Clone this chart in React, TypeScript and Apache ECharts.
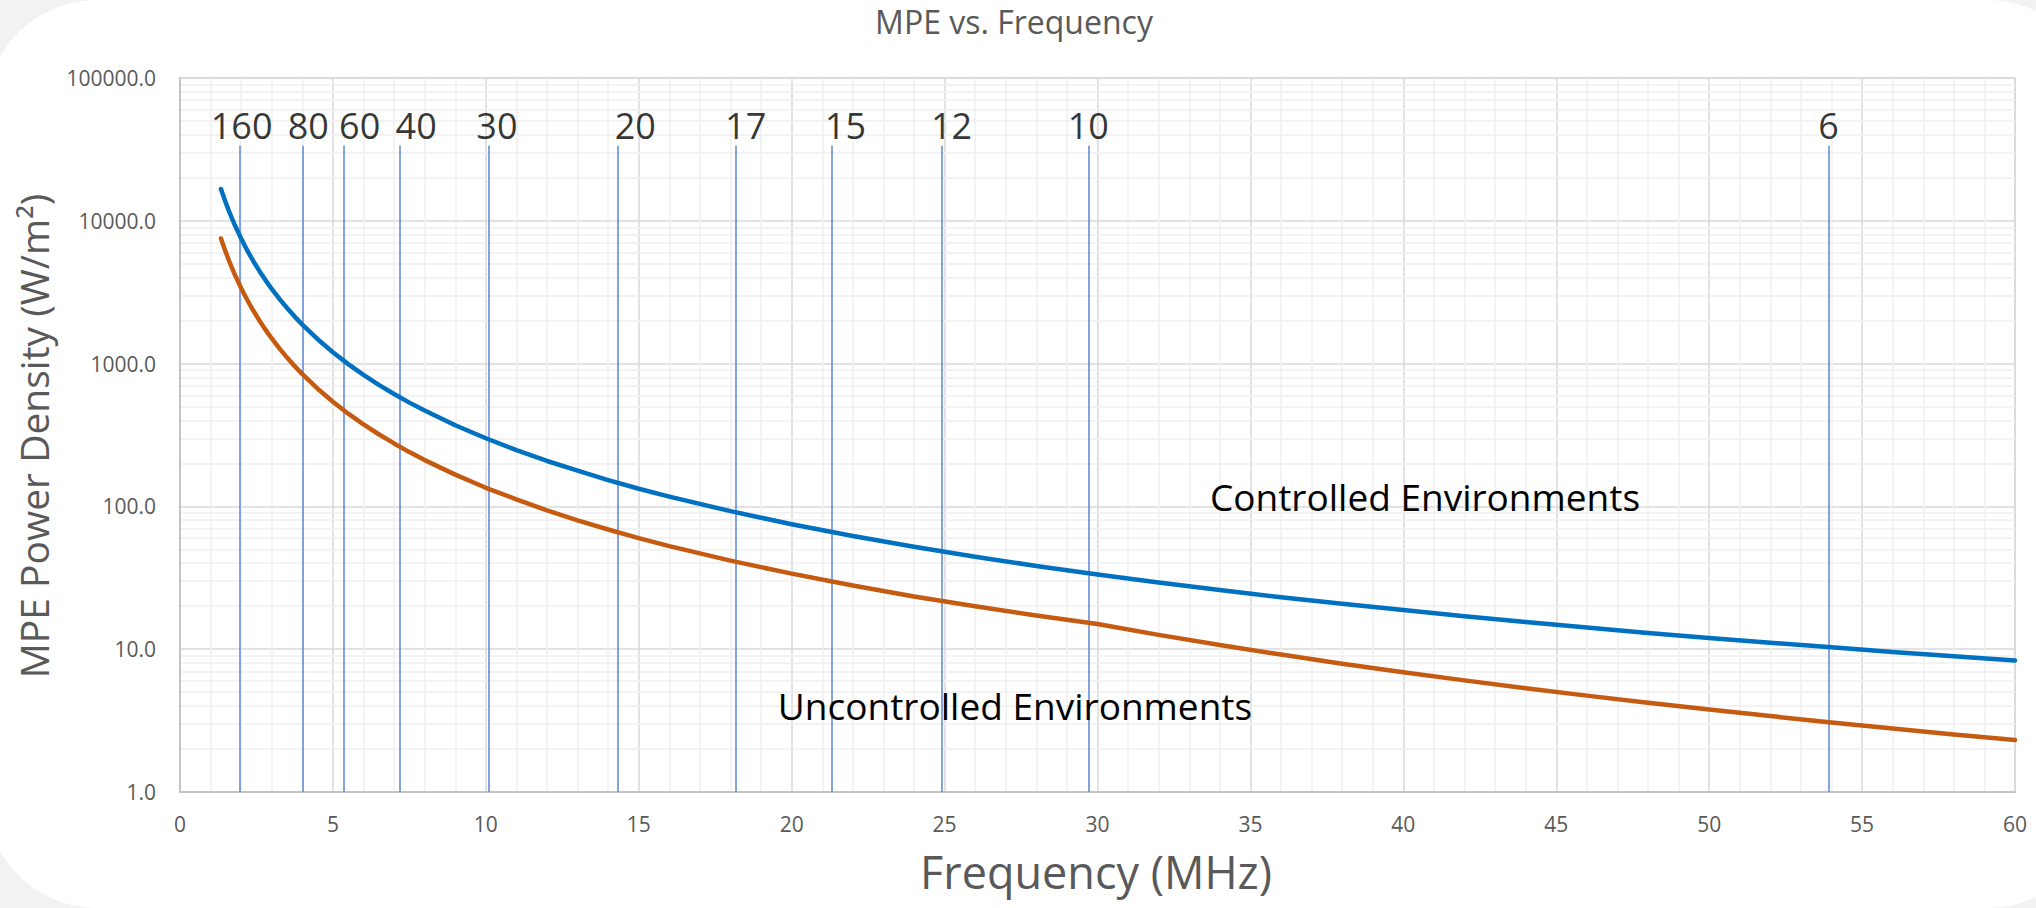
import React, { useEffect, useRef } from "react";
import * as echarts from "echarts";

// Frequency samples (MHz)
const freq = [
  1.34, 1.4, 1.5, 1.6, 1.7, 1.8, 2.0, 2.2, 2.4, 2.6, 2.8, 3.0, 3.25, 3.5, 3.75, 4, 4.5, 5, 5.5, 6,
  6.5, 7, 7.5, 8, 9, 10, 11, 12, 13, 14, 15, 16, 18, 20, 22, 24, 26, 28, 30, 32, 34, 36, 38, 40,
  42, 44, 46, 48, 50, 52, 54, 56, 58, 60,
];
// MPE power density, controlled environments (W/m²)
const controlled = [
  16707, 15306, 13333, 11719, 10381, 9259, 7500, 6198, 5208, 4438, 3827, 3333, 2840, 2449, 2133,
  1875, 1481, 1200, 992, 833, 710, 612, 533, 469, 370, 300, 248, 208, 178, 153, 133, 117, 92.6, 75.0,
  62.0, 52.1, 44.4, 38.3, 33.3, 29.3, 26.0, 23.1, 20.8, 18.8, 17.0, 15.5, 14.2, 13.0, 12.0, 11.1,
  10.3, 9.57, 8.92, 8.33,
];
// MPE power density, uncontrolled environments (W/m²)
const uncontrolled = [
  7518, 6888, 6000, 5273, 4671, 4167, 3375, 2789, 2344, 1997, 1722, 1500, 1278, 1102, 960, 844,
  667, 540, 446, 375, 320, 276, 240, 211, 167, 135, 112, 93.8, 79.9, 68.9, 60.0, 52.7, 41.7, 33.8,
  27.9, 23.4, 20.0, 17.2, 15.0, 12.6, 10.7, 9.17, 7.92, 6.9, 6.05, 5.33, 4.73, 4.22, 3.78, 3.4,
  3.07, 2.78, 2.53, 2.31,
];
// Amateur band marker lines (MHz) and their names (m)
const bandFreqs = [1.95, 4.0, 5.35, 7.2, 10.1, 14.3, 18.17, 21.3, 24.9, 29.7, 53.9];
const bandNames = ["160", "80", "60", "40", "30", "20", "17", "15", "12", "10", "6"];
const bandLineTop = 33500;
const bandLineBottom = 1;
// y-axis decades
const yMin = 1;
const yMax = 100000;

// style only: horizontal nudges of the band labels (px)
const bandLabelNudge = [2, 6, 16, 16, 8, 18, 10, 14, 10, 0, 0];

const FONT = "Open Sans";

export default function App() {
  const ref = useRef<HTMLDivElement>(null);

  useEffect(() => {
    document.body.style.margin = "0";
    const chart = echarts.init(ref.current!, null, { renderer: "svg" });

    const minorValues: number[] = [];
    for (let d = yMin; d < yMax; d *= 10) {
      for (let m = 2; m <= 9; m++) minorValues.push(m * d);
    }

    const option: any = {
      animation: false,
      textStyle: { fontFamily: FONT },
      grid: {
        left: 180,
        right: 21,
        top: 78,
        bottom: 116,
        containLabel: false,
        outerBoundsMode: "none",
        show: true,
        borderColor: "#d9d9d9",
        borderWidth: 1.5,
      },
      xAxis: {
        type: "value",
        min: 0,
        max: 60,
        interval: 5,
        z: 0,
        axisLine: { show: true, lineStyle: { color: "#c4c4c4", width: 2 } },
        axisTick: { show: false },
        minorTick: { show: false, splitNumber: 5 },
        axisLabel: { color: "#595959", fontSize: 21, margin: 21, fontFamily: FONT },
        splitLine: { show: true, lineStyle: { color: "#d9d9d9", width: 1.5 } },
        minorSplitLine: { show: true, lineStyle: { color: "#efefef", width: 1.5 } },
      },
      yAxis: {
        type: "log",
        logBase: 10,
        min: yMin,
        max: yMax,
        z: 0,
        axisLine: { show: true, lineStyle: { color: "#c4c4c4", width: 2 } },
        axisTick: { show: false },
        axisLabel: {
          color: "#595959",
          fontSize: 21,
          margin: 24,
          fontFamily: FONT,
          formatter: (v: number) => Number(v).toFixed(1),
        },
        splitLine: { show: true, lineStyle: { color: "#d9d9d9", width: 1.5 } },
      },
      series: [
        {
          type: "line",
          data: [],
          z: 0,
          silent: true,
          markLine: {
            silent: true,
            z: 0,
            symbol: ["none", "none"],
            label: { show: false },
            lineStyle: { color: "#efefef", width: 1.5, type: "solid" },
            data: minorValues.map((v) => ({ yAxis: v })),
          },
        },
        {
          type: "line",
          data: [],
          z: 1,
          silent: true,
          markLine: {
            silent: true,
            z: 1,
            symbol: ["none", "none"],
            label: { show: false },
            lineStyle: { color: "#5b86d6", width: 1.5, type: "solid" },
            data: bandFreqs.map((f) => [
              { coord: [f, bandLineBottom] },
              { coord: [f, bandLineTop] },
            ]),
          },
        },
        {
          name: "Controlled Environments",
          type: "line",
          data: freq.map((f, i) => [f, controlled[i]]),
          showSymbol: false,
          smooth: false,
          z: 10,
          lineStyle: { color: "#0070C0", width: 4.5, cap: "round", join: "round" },
          itemStyle: { color: "#0070C0" },
        },
        {
          name: "Uncontrolled Environments",
          type: "line",
          data: freq.map((f, i) => [f, uncontrolled[i]]),
          showSymbol: false,
          smooth: false,
          z: 10,
          lineStyle: { color: "#C55A11", width: 4.5, cap: "round", join: "round" },
          itemStyle: { color: "#C55A11" },
        },
        {
          type: "scatter",
          silent: true,
          z: 12,
          symbolSize: 1,
          itemStyle: { color: "rgba(0,0,0,0)" },
          data: bandFreqs.map((f, i) => ({
            value: [f, bandLineTop],
            label: { offset: [bandLabelNudge[i], 0] },
          })),
          label: {
            show: true,
            position: "top",
            distance: 2,
            fontSize: 36,
            color: "#000000",
            fontFamily: FONT,
            formatter: (p: any) => bandNames[p.dataIndex],
          },
        },
      ],
      graphic: [
        {
          type: "text",
          x: 1014,
          y: 21,
          silent: true,
          style: {
            text: "MPE vs. Frequency",
            fill: "#595959",
            font: `32px "${FONT}"`,
            align: "center",
            verticalAlign: "middle",
          },
        },
        {
          type: "text",
          x: 33,
          y: 436,
          rotation: Math.PI / 2,
          silent: true,
          style: {
            text: "MPE Power Density (W/m²)",
            fill: "#595959",
            font: `39px "${FONT}"`,
            align: "center",
            verticalAlign: "middle",
          },
        },
        {
          type: "text",
          x: 1096,
          y: 871,
          silent: true,
          style: {
            text: "Frequency (MHz)",
            fill: "#595959",
            font: `45px "${FONT}"`,
            align: "center",
            verticalAlign: "middle",
          },
        },
        {
          type: "text",
          x: 1425,
          y: 496,
          silent: true,
          z: 20,
          style: {
            text: "Controlled Environments",
            fill: "#000000",
            font: `37px "${FONT}"`,
            align: "center",
            verticalAlign: "middle",
          },
        },
        {
          type: "text",
          x: 1015,
          y: 705,
          silent: true,
          z: 20,
          style: {
            text: "Uncontrolled Environments",
            fill: "#000000",
            font: `37px "${FONT}"`,
            align: "center",
            verticalAlign: "middle",
          },
        },
      ],
    };

    chart.setOption(option);
    const onResize = () => chart.resize();
    window.addEventListener("resize", onResize);
    return () => {
      window.removeEventListener("resize", onResize);
      chart.dispose();
    };
  }, []);

  return (
    <div
      style={{
        position: "fixed",
        left: 0,
        top: 0,
        width: 2036,
        height: 908,
        overflow: "hidden",
        background: "#f2f2f2",
      }}
    >
      <div
        style={{
          position: "absolute",
          left: -14,
          top: 0,
          width: 2113,
          height: 908,
          borderRadius: 111,
          background: "#ffffff",
        }}
      />
      <div ref={ref} style={{ position: "absolute", left: 0, top: 0, width: 2036, height: 908 }} />
    </div>
  );
}
